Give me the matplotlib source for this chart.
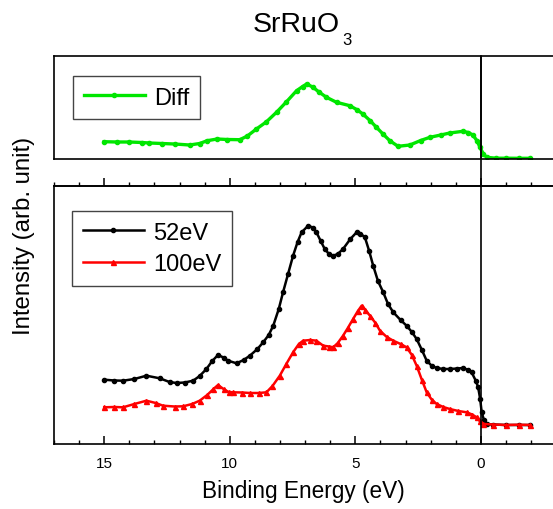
import matplotlib
matplotlib.use('Agg')
import matplotlib.pyplot as plt
from matplotlib.ticker import MultipleLocator

plt.rcParams['font.family'] = ['Liberation Sans', 'DejaVu Sans']

# 52 eV spectrum (binding energy, intensity)
e52 = [15.0, 14.6, 14.25, 13.8, 13.32, 12.79, 12.4, 12.12, 11.8, 11.46, 11.2, 10.93,
       10.7, 10.47, 10.25, 10.07, 9.73, 9.45, 9.2, 8.9, 8.67, 8.45, 8.27, 8.05, 7.88,
       7.68, 7.48, 7.3, 7.14, 6.88, 6.7, 6.55, 6.38, 6.22, 6.05, 5.88, 5.7, 5.49, 5.2,
       4.95, 4.8, 4.62, 4.45, 4.29, 4.1, 3.89, 3.7, 3.49, 3.2, 2.96, 2.75, 2.56, 2.35,
       2.16, 1.95, 1.76, 1.5, 1.24, 0.95, 0.71, 0.5, 0.37, 0.2, 0.11, 0.03, -0.03,
       -0.12, -0.23, -0.5, -1.0, -1.5, -1.95]
i52 = [64.3, 63.5, 63.3, 65, 68.3, 65.7, 62, 61, 61.5, 63.3, 68, 75,
       83, 89, 86.5, 83.3, 80.7, 84, 88.3, 95, 101.7, 109, 118.3, 135, 151.7,
       170, 188.3, 202, 211.7, 218.3, 216.5, 211.7, 203, 195, 190, 188.3, 190, 195, 205,
       211.7, 210.5, 206.7, 193, 178.3, 163, 151.7, 140, 131.7, 124, 118.3, 112, 105, 94,
       83.3, 78, 76, 75, 75, 75.5, 76, 74, 71.7, 63, 56.7, 45, 31.7,
       24, 20, 19.5, 19, 19, 19]

# 100 eV spectrum
e100 = [15.0, 14.6, 14.25, 13.8, 13.32, 12.95, 12.66, 12.2, 11.86, 11.5, 11.2, 10.9,
        10.65, 10.47, 10.25, 10.05, 9.87, 9.5, 9.2, 8.85, 8.54, 8.3, 8.01, 7.75, 7.48,
        7.25, 7.08, 6.8, 6.55, 6.28, 6.05, 5.88, 5.7, 5.49, 5.3, 5.09, 4.9, 4.75, 4.6,
        4.42, 4.2, 4.02, 3.75, 3.49, 3.2, 2.96, 2.75, 2.56, 2.35, 2.16, 1.95, 1.76, 1.5,
        1.24, 0.9, 0.57, 0.35, 0.17, 0.05, -0.1, -0.5, -1.0, -1.5, -1.95]
i100 = [36.7, 37, 36.7, 40, 43.3, 41, 38.3, 37.5, 37.7, 40, 43.3, 49,
        55, 59, 55, 52, 51.7, 51.5, 51, 51, 51.7, 58, 68.3, 80, 91.7,
        100, 103.3, 104, 103.3, 98.3, 97.5, 96.7, 101, 108.3, 116, 125, 133, 138.3, 134,
        128.3, 121, 113.3, 107, 103.3, 100, 96.7, 89, 78.3, 64, 51.7, 44, 40, 37,
        35, 33, 31.7, 29.5, 26.7, 23, 20, 19.5, 19, 19.3, 19]

# difference spectrum
e_diff = [15.0, 14.5, 14.0, 13.5, 13.2, 12.7, 12.2, 11.6, 11.2, 10.9, 10.5, 10.1, 9.6,
          9.3, 8.94, 8.55, 8.14, 7.75, 7.34, 7.1, 6.94, 6.7, 6.45, 6.15, 5.75, 5.22,
          4.95, 4.7, 4.42, 4.16, 3.9, 3.63, 3.3, 2.83, 2.4, 2.03, 1.6, 1.24, 0.72, 0.5,
          0.32, 0.15, 0.04, -0.1, -0.23, -0.6, -1.0, -1.5, -1.95]
i_diff = [17.3, 17, 17, 16.5, 16, 15.5, 15, 14, 15.5, 18.3, 20, 19.5, 19.3,
          23, 30, 37, 46.7, 57, 68.3, 72.5, 75, 72, 67, 61.7, 56.7, 53.3,
          49.5, 45, 38.5, 31.7, 25, 18.3, 12.7, 14, 18.5, 21.7, 24, 26, 27.7, 26.5,
          24, 18, 11.7, 5, 1.7, 0.8, 0.8, 0.7, 0.7]

W, H = 553, 510
fig = plt.figure(figsize=(W / 100, H / 100), dpi=100)
ax1 = fig.add_axes([54 / W, (H - 160) / H, 1 - 54 / W, 103 / H])
ax2 = fig.add_axes([54 / W, 65 / H, 1 - 54 / W, 258 / H])

xl = (17.0, -2.87)
leg_kw = dict(loc='upper left', borderaxespad=0, fontsize=17, fancybox=False,
              edgecolor='#444444', framealpha=1, handlelength=2.6,
              handletextpad=0.4, borderpad=0.45)

# top panel: difference
ax1.plot(e_diff, i_diff, color='#00e600', lw=2.4, marker='o', ms=3, label='Diff')
ax1.axvline(0, color='black', lw=1.2)
ax1.set_xlim(*xl)
ax1.set_ylim(0, 103)
ax1.set_xticks([])
ax1.set_yticks([])
ax1.spines['right'].set_visible(False)
for s in ['top', 'bottom', 'left']:
    ax1.spines[s].set_linewidth(1.2)
ax1.legend(bbox_to_anchor=(0.038, 0.806), **leg_kw)

# bottom panel: spectra
ax2.plot(e52, i52, color='black', lw=1.8, marker='o', ms=3, label='52eV')
ax2.plot(e100, i100, color='red', lw=1.8, marker='^', ms=3.6, label='100eV')
ax2.axvline(0, ymin=0, ymax=388 / 258, color='black', lw=1.2, clip_on=False)
ax2.set_xlim(*xl)
ax2.set_ylim(0, 258)
ax2.set_yticks([])
ax2.spines['right'].set_visible(False)
for s in ['top', 'bottom', 'left']:
    ax2.spines[s].set_linewidth(1.2)
ax2.xaxis.set_major_locator(MultipleLocator(5))
ax2.xaxis.set_minor_locator(MultipleLocator(1))
ax2.tick_params(axis='x', which='major', direction='in', length=6, width=1.1,
                labelsize=11, pad=9)
ax2.tick_params(axis='x', which='minor', direction='in', length=3, width=1.0)

top = ax2.secondary_xaxis('top')
top.xaxis.set_major_locator(MultipleLocator(5))
top.xaxis.set_minor_locator(MultipleLocator(1))
top.tick_params(axis='x', which='major', direction='out', length=5.5, width=1.1,
                labeltop=False)
top.tick_params(axis='x', which='minor', direction='out', length=2.8, width=1.0)
top.spines['top'].set_linewidth(1.2)

ax2.set_xlabel('Binding Energy (eV)', fontsize=16.3, labelpad=6)
ax2.legend(bbox_to_anchor=(0.036, 0.903), labelspacing=0.4, **leg_kw)

fig.text(24 / W, 1 - 236 / H, 'Intensity (arb. unit)', rotation=90,
         ha='center', va='center', fontsize=17.3)
# title with a dropped subscript
fig.text(340 / W, 1 - 32 / H, 'SrRuO', ha='right', va='baseline', fontsize=20.5)
fig.text(342 / W, 1 - 45 / H, '3', ha='left', va='baseline', fontsize=12)

fig.savefig('out.png', dpi=100)
